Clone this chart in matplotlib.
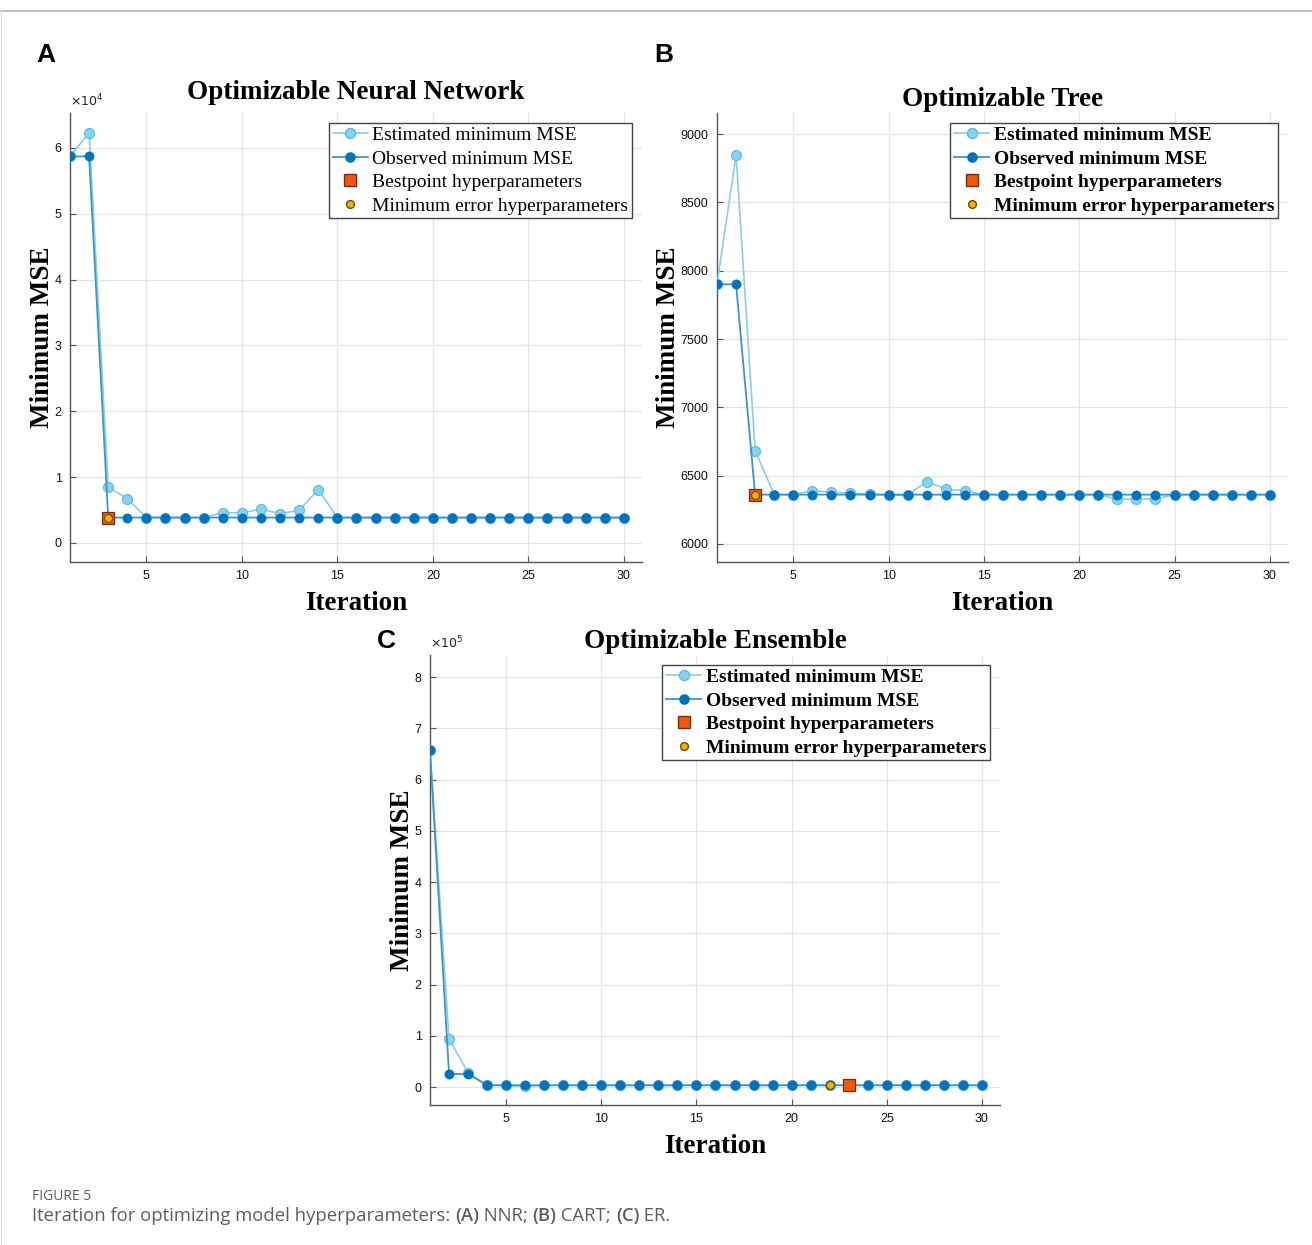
import matplotlib
matplotlib.use("Agg")
import matplotlib.pyplot as plt
from matplotlib.lines import Line2D
import numpy as np

# ---------------- data ----------------
iterations = list(range(1, 31))

# A: Optimizable Neural Network
nn_estimated = [58700, 62300, 8500, 6700, 3850, 3850, 3850, 3850, 4600, 4550,
                5150, 4450, 4950, 8100, 3850, 3850, 3850, 3850, 3850, 3850,
                3850, 3850, 3850, 3850, 3850, 3850, 3850, 3850, 3850, 3850]
nn_observed = [58700, 58700, 3850, 3850, 3850, 3850, 3850, 3850, 3850, 3850,
               3850, 3850, 3850, 3850, 3850, 3850, 3850, 3850, 3850, 3850,
               3850, 3850, 3850, 3850, 3850, 3850, 3850, 3850, 3850, 3850]
nn_best_iter, nn_min_iter = 3, 3

# B: Optimizable Tree
tree_estimated = [7900, 8845, 6683, 6361, 6361, 6390, 6378, 6371, 6366, 6358,
                  6358, 6456, 6402, 6390, 6361, 6361, 6361, 6361, 6361, 6361,
                  6361, 6329, 6329, 6329, 6361, 6361, 6361, 6361, 6361, 6361]
tree_observed = [7900, 7900, 6361, 6361, 6361, 6361, 6361, 6361, 6361, 6361,
                 6361, 6361, 6361, 6361, 6361, 6361, 6361, 6361, 6361, 6361,
                 6361, 6361, 6361, 6361, 6361, 6361, 6361, 6361, 6361, 6361]
tree_best_iter, tree_min_iter = 3, 3

# C: Optimizable Ensemble
ens_estimated = [658000, 94300, 28000, 3500, 3500, 1500, 3500, 3500, 3500, 3500,
                 3500, 3500, 3500, 3500, 3500, 3500, 3500, 3500, 3500, 3500,
                 3500, 3500, 3500, 3500, 3500, 3500, 3500, 3500, 3500, 3500]
ens_observed = [658000, 25500, 25500, 3500, 3500, 3500, 3500, 3500, 3500, 3500,
                3500, 3500, 3500, 3500, 3500, 3500, 3500, 3500, 3500, 3500,
                3500, 3500, 3500, 3500, 3500, 3500, 3500, 3500, 3500, 3500]
ens_best_iter, ens_min_iter = 23, 22

legend_labels = ["Estimated minimum MSE", "Observed minimum MSE",
                 "Bestpoint hyperparameters", "Minimum error hyperparameters"]

# ---------------- style ----------------
SERIF = "Liberation Serif"
SANS = "Liberation Sans"
EST_LINE = "#8ccde6"
EST_FACE = "#84d4f1"
EST_EDGE = "#5eb9dc"
OBS_LINE = "#3896cf"
OBS_FACE = "#0072bd"
SQ_FACE = "#f2560f"
SQ_EDGE = "#7a2c12"
MIN_FACE = "#f5b000"
MIN_EDGE = "#6b4a00"
SPINE = "#555555"
GRID = "#e4e4e4"

W, H = 1312, 1245
fig = plt.figure(figsize=(W / 100, H / 100), dpi=100)


def rect(l, r, t, b):
    return [l / W, 1 - b / H, (r - l) / W, (b - t) / H]


def panel(ax, est, obs, best_it, min_it, ylim, yticks, title, bold_legend,
          title_pad, sci=None):
    x = np.array(iterations)
    est = np.array(est, dtype=float)
    obs = np.array(obs, dtype=float)
    ax.plot(x, est, color=EST_LINE, lw=1.2, marker="o", ms=7.2,
            mfc=EST_FACE, mec=EST_EDGE, mew=0.8, zorder=3)
    ax.plot(x, obs, color=OBS_LINE, lw=1.3, marker="o", ms=6.6,
            mfc=OBS_FACE, mec=OBS_FACE, mew=0.5, zorder=4)
    ax.plot([best_it], [obs[best_it - 1]], ls="none", marker="s", ms=8.2,
            mfc=SQ_FACE, mec=SQ_EDGE, mew=0.9, zorder=5)
    ax.plot([min_it], [obs[min_it - 1]], ls="none", marker="o", ms=5.6,
            mfc=MIN_FACE, mec=MIN_EDGE, mew=0.7, zorder=6)

    ax.set_xlim(1, 30.95)
    ax.set_ylim(*ylim)
    ax.set_xticks([5, 10, 15, 20, 25, 30])
    ax.set_yticks(yticks)
    if sci is not None:
        ax.set_yticklabels([f"{t / 10 ** sci:g}" for t in yticks])
        ax.text(0.0, 1.008, r"$\times10^{%d}$" % sci, transform=ax.transAxes,
                fontsize=9, family=SANS, color="#222222", ha="left",
                va="bottom")
    else:
        ax.set_yticklabels([f"{t:g}" for t in yticks])
    ax.grid(True, color=GRID, lw=0.9)
    ax.set_axisbelow(True)
    for s in ["top", "right"]:
        ax.spines[s].set_visible(False)
    for s in ["left", "bottom"]:
        ax.spines[s].set_color(SPINE)
        ax.spines[s].set_linewidth(1.0)
    ax.tick_params(direction="in", length=4, width=0.8, color=SPINE,
                   labelsize=9, labelcolor="#111111", pad=6)
    for lab in ax.get_xticklabels() + ax.get_yticklabels():
        lab.set_family(SANS)
    ax.set_xlabel("Iteration", family=SERIF, fontweight="bold", fontsize=19.5,
                  labelpad=6)
    ax.set_ylabel("Minimum MSE", family=SERIF, fontweight="bold",
                  fontsize=19.5, labelpad=0)
    ax.set_title(title, family=SERIF, fontweight="bold", fontsize=19.5,
                 pad=title_pad)

    handles = [
        Line2D([], [], color=EST_LINE, lw=1.2, marker="o", ms=7.2,
               mfc=EST_FACE, mec=EST_EDGE),
        Line2D([], [], color=OBS_LINE, lw=1.3, marker="o", ms=6.6,
               mfc=OBS_FACE, mec=OBS_FACE),
        Line2D([], [], ls="none", marker="s", ms=8.2, mfc=SQ_FACE,
               mec=SQ_EDGE),
        Line2D([], [], ls="none", marker="o", ms=5.6, mfc=MIN_FACE,
               mec=MIN_EDGE),
    ]
    leg = ax.legend(handles, legend_labels, loc="upper right",
                    bbox_to_anchor=(1.0, 1.0),
                    prop={"family": SERIF, "size": 14,
                          "weight": "bold" if bold_legend else "normal"},
                    frameon=True, fancybox=False, edgecolor="#444444",
                    framealpha=1, borderpad=0.2, labelspacing=0.3,
                    handlelength=1.8, handletextpad=0.25, borderaxespad=0.5)
    leg.get_frame().set_linewidth(1.0)
    return ax


axA = fig.add_axes(rect(70, 642, 113, 562))
panel(axA, nn_estimated, nn_observed, nn_best_iter, nn_min_iter,
      (-2900, 65300), [0, 10000, 20000, 30000, 40000, 50000, 60000],
      "Optimizable Neural Network", False, 10, sci=4)

axB = fig.add_axes(rect(717, 1288, 113, 562))
panel(axB, tree_estimated, tree_observed, tree_best_iter, tree_min_iter,
      (5868, 9154), [6000, 6500, 7000, 7500, 8000, 8500, 9000],
      "Optimizable Tree", True, 5)

axC = fig.add_axes(rect(430, 1000, 655, 1105))
panel(axC, ens_estimated, ens_observed, ens_best_iter, ens_min_iter,
      (-35000, 843000), [0, 100000, 200000, 300000, 400000, 500000, 600000,
                         700000, 800000],
      "Optimizable Ensemble", True, 5, sci=5)

# panel letters
for letter, (px, py) in zip("ABC", [(46, 55), (664, 55), (386, 641)]):
    fig.text(px / W, 1 - py / H, letter, family=SANS, fontweight="bold",
             fontsize=19, ha="center", va="center")

# frame lines of the page
fig.add_artist(Line2D([0, 1], [1 - 11 / H, 1 - 11 / H], color="#b5b5b5",
                      lw=1.2, transform=fig.transFigure))
fig.add_artist(Line2D([0.5 / W, 0.5 / W], [0, 1 - 11 / H], color="#dddddd",
                      lw=1.0, transform=fig.transFigure))

# caption
CAP = "#5e5e5e"
fig.text(32 / W, 1 - 1196 / H, "FIGURE 5", family="Open Sans", fontsize=10,
         color=CAP, ha="left", va="center")

renderer = fig.canvas.get_renderer()
caption_parts = [
    ("Iteration for optimizing model hyperparameters: ", "normal"),
    ("(A)", "semibold"), (" NNR; ", "normal"),
    ("(B)", "semibold"), (" CART; ", "normal"),
    ("(C)", "semibold"), (" ER.", "normal"),
]
cx = 32.0
for txt, wt in caption_parts:
    t = fig.text(cx / W, 1 - 1216 / H, txt, family="Open Sans",
                 fontsize=13.3, fontweight=wt, color=CAP, ha="left",
                 va="center")
    bb = t.get_window_extent(renderer)
    cx = bb.x1

fig.savefig("out.png", dpi=100)
